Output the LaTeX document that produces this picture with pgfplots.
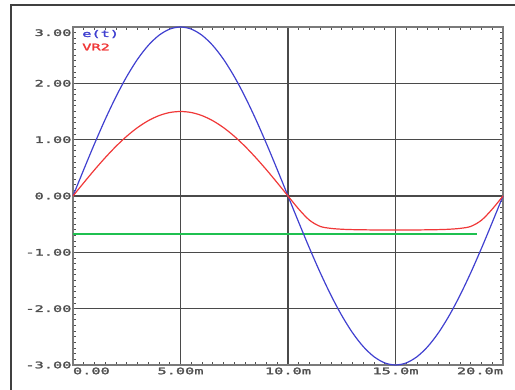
\documentclass[border=0pt]{standalone}
\usepackage{fontspec}
\usepackage{pgfplots}
\pgfplotsset{compat=1.18}
\newfontfamily\pix[FakeStretch=1.7,FakeBold=2.5]{DejaVu Sans Mono}
\definecolor{cblue}{HTML}{4040D0}
\definecolor{cred}{HTML}{F03838}
\definecolor{cgreen}{HTML}{1FC050}
\definecolor{cgrid}{HTML}{4A4A4A}
\definecolor{cframe}{HTML}{7A7A7A}
\definecolor{ctxt}{HTML}{505050}
\begin{document}
\begin{tikzpicture}[x=1pt,y=1pt]
\useasboundingbox (-73,-25) rectangle (442,365);
\draw[line width=1.3pt,color=black!75] (-62,-26) -- (-62,360) -- (443,360);
\begin{axis}[
  at={(0,0)}, anchor=south west,
  scale only axis, width=430pt, height=338pt,
  xmin=0, xmax=20, ymin=-3, ymax=3,
  axis line style={line width=1.5pt, color=cframe},
  xtick={0,5,10,15,20},
  xticklabels={\makebox[0pt][l]{0.00},5.00m,10.0m,15.0m,\makebox[0pt][r]{20.0m}},
  ytick={-3,-2,-1,0,1,2,3},
  yticklabels={-3.00,-2.00,-1.00,0.00,1.00,2.00,\raisebox{-9pt}[0pt][0pt]{3.00}},
  minor x tick num=9, minor y tick num=9,
  tick align=inside,
  major tick length=3pt, minor tick length=3pt,
  tick style={color=ctxt, line width=0.9pt},
  xticklabel style={font=\pix\fontsize{9}{9}\selectfont, color=ctxt, yshift=1pt},
  yticklabel style={font=\pix\fontsize{9}{9}\selectfont, color=ctxt, xshift=2pt},
  grid=major,
  major grid style={line width=1.5pt, color=cgrid},
  clip=false,
]
\addplot[draw=cgreen, line width=1.1pt] coordinates {(0,-0.675) (18.8,-0.675)};
\addplot[color=cblue, line width=1.2pt, smooth] coordinates {
(0,0) (0.5,0.469) (1,0.927) (1.5,1.362) (2,1.763) (2.5,2.121) (3,2.427) (3.5,2.673) (4,2.853) (4.5,2.963) (5,3.0)
(5.5,2.963) (6,2.853) (6.5,2.673) (7,2.427) (7.5,2.121) (8,1.763) (8.5,1.362) (9,0.927) (9.5,0.469) (10,0)
(10.5,-0.469) (11,-0.927) (11.5,-1.362) (12,-1.763) (12.5,-2.121) (13,-2.427) (13.5,-2.673) (14,-2.853) (14.5,-2.963) (15,-3.0)
(15.5,-2.963) (16,-2.853) (16.5,-2.673) (17,-2.427) (17.5,-2.121) (18,-1.763) (18.5,-1.362) (19,-0.927) (19.5,-0.469) (20,0)
};
\addplot[color=cred, line width=1.2pt, smooth] coordinates {
(0,0) (0.5,0.235) (1,0.464) (1.5,0.681) (2,0.882) (2.5,1.061) (3,1.214) (3.5,1.337) (4,1.427) (4.5,1.482) (5,1.5)
(5.5,1.482) (6,1.427) (6.5,1.337) (7,1.214) (7.5,1.061) (8,0.882) (8.5,0.681) (9,0.464) (9.5,0.235) (10,0)
(10.5,-0.233) (11,-0.43) (11.5,-0.54) (12,-0.575) (12.5,-0.59) (13,-0.597) (13.5,-0.60) (14,-0.603) (14.5,-0.605) (15,-0.605)
(15.5,-0.605) (16,-0.603) (16.5,-0.60) (17,-0.597) (17.5,-0.59) (18,-0.575) (18.5,-0.54) (19,-0.43) (19.5,-0.233) (20,0)
};
\node[anchor=west, inner sep=0pt, font=\pix\fontsize{9}{9}\selectfont, text=cblue] at (rel axis cs:0.021,0.979) {e(t)};
\node[anchor=west, inner sep=0pt, font=\pix\fontsize{9}{9}\selectfont, text=cred] at (rel axis cs:0.021,0.941) {VR2};
\end{axis}
\end{tikzpicture}
\end{document}
